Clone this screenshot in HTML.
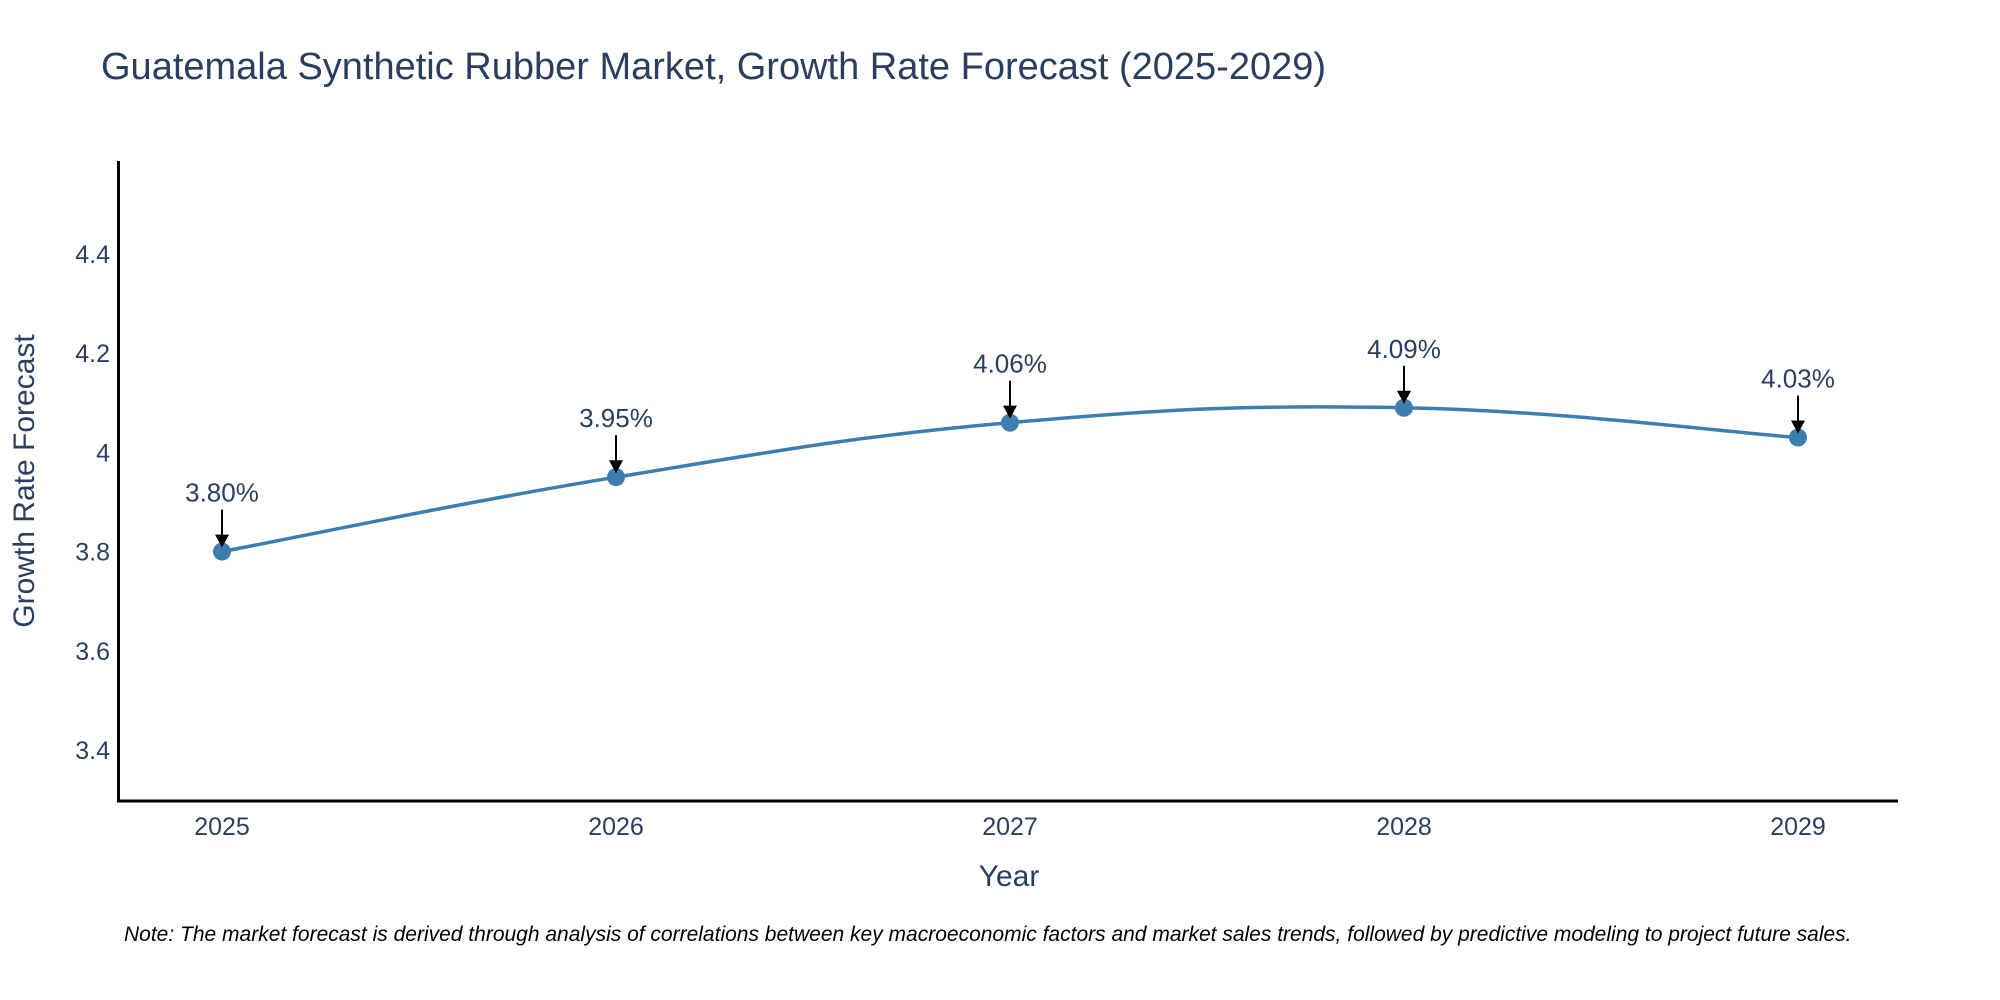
<!DOCTYPE html>
<html><head><meta charset="utf-8"><style>
html,body{margin:0;padding:0;background:#fff;}
svg{display:block;font-family:"Liberation Sans","DejaVu Sans",sans-serif;}
</style></head><body>
<svg id="chart" width="2000" height="1000" viewBox="0 0 2000 1000">
<text x="101" y="79" font-size="38" fill="#2a3f5f">Guatemala Synthetic Rubber Market, Growth Rate Forecast (2025-2029)</text>
<g id="yticks"></g>
<g id="xticks"></g>
<line x1="118.5" y1="161" x2="118.5" y2="802" stroke="#000" stroke-width="3"/>
<line x1="117" y1="801" x2="1898" y2="801" stroke="#000" stroke-width="3"/>
<path id="line" fill="none" stroke="#3d7eb0" stroke-width="3.5"/>
<g id="marks"></g>
<text transform="translate(34,481) rotate(-90)" text-anchor="middle" font-size="30" fill="#2a3f5f">Growth Rate Forecast</text>
<text x="1009" y="886" text-anchor="middle" font-size="30" fill="#2a3f5f">Year</text>
<text x="124" y="941" font-size="21" font-style="italic" fill="#000" style="white-space:pre">Note: The market forecast is derived through analysis of correlations between key macroeconomic factors and market sales trends, followed by predictive modeling to project future sales.</text>
</svg>
<script>
const years = [2025, 2026, 2027, 2028, 2029];
const values = [3.80, 3.95, 4.06, 4.09, 4.03];
const labels = ["3.80%", "3.95%", "4.06%", "4.09%", "4.03%"];
const yTicks = [3.4, 3.6, 3.8, 4, 4.2, 4.4];
const yTickLabels = ["3.4", "3.6", "3.8", "4", "4.2", "4.4"];

const NS = "http://www.w3.org/2000/svg";
function xs(yr){ return 222 + (yr - 2025) * 394; }
function ys(v){ return 750 - (v - 3.4) * 496; }
function mk(tag, attrs, parent){
  const e = document.createElementNS(NS, tag);
  for (const k in attrs) e.setAttribute(k, attrs[k]);
  parent.appendChild(e); return e;
}
const yt = document.getElementById('yticks');
yTicks.forEach((t,i)=>{
  const e = mk('text', {x:110, y:ys(t)+9, 'text-anchor':'end', 'font-size':25, fill:'#2a3f5f'}, yt);
  
  
  e.textContent = yTickLabels[i];
});
const xt = document.getElementById('xticks');
years.forEach(yr=>{
  const e = mk('text', {x:xs(yr), y:835, 'text-anchor':'middle', 'font-size':25, fill:'#2a3f5f'}, xt);
  
  
  e.textContent = String(yr);
});
const pts = years.map((yr,i)=>[xs(yr), ys(values[i])]);
let d = `M${pts[0][0]},${pts[0][1]}`;
const s = 0.2;
for (let i=0;i<pts.length-1;i++){
  const p0 = pts[Math.max(0,i-1)], p1 = pts[i], p2 = pts[i+1], p3 = pts[Math.min(pts.length-1,i+2)];
  const c1 = [p1[0]+(p2[0]-p0[0])*s, p1[1]+(p2[1]-p0[1])*s];
  const c2 = [p2[0]-(p3[0]-p1[0])*s, p2[1]-(p3[1]-p1[1])*s];
  d += ` C${c1[0]},${c1[1]} ${c2[0]},${c2[1]} ${p2[0]},${p2[1]}`;
}
document.getElementById('line').setAttribute('d', d);
const g = document.getElementById('marks');
pts.forEach((p,i)=>{
  const c = mk('circle', {cx:p[0], cy:p[1], r:9, fill:'#3d7eb0'}, g);
  
  
  const l = mk('line', {x1:p[0], y1:p[1]-42, x2:p[0], y2:p[1]-14, stroke:'#000', 'stroke-width':2}, g);
  
  
  const a = mk('polygon', {points:`${p[0]-7},${p[1]-17} ${p[0]+7},${p[1]-17} ${p[0]},${p[1]-4}`, fill:'#000'}, g);
  
  
  const t = mk('text', {x:p[0], y:p[1]-50, 'text-anchor':'middle', 'font-size':26, fill:'#2a3f5f'}, g);
  
  
  t.textContent = labels[i];
});
</script>
</body></html>
